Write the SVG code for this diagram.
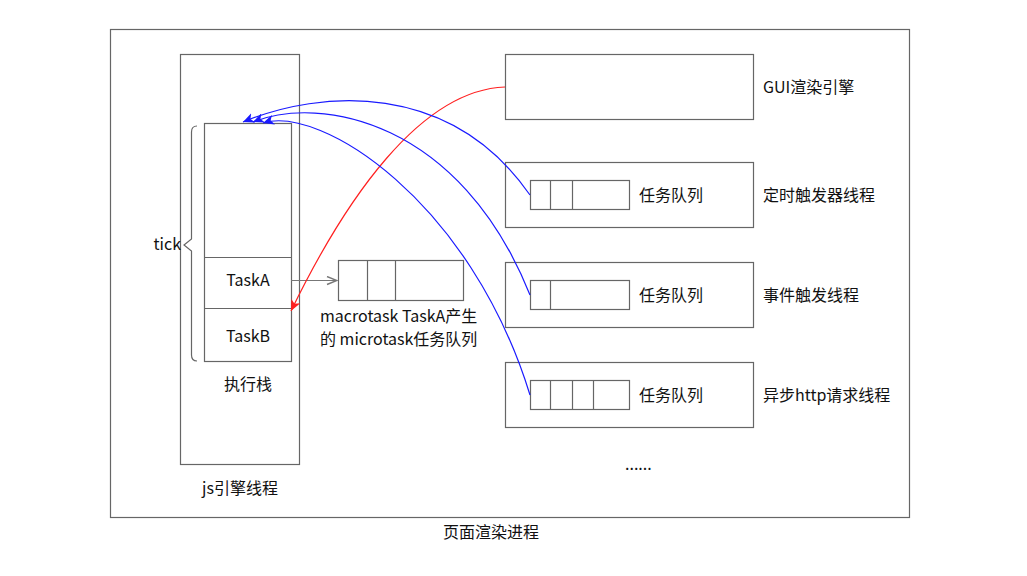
<svg xmlns="http://www.w3.org/2000/svg" width="1027" height="576" viewBox="0 0 1027 576">
<style>
.b{fill:none;stroke:#666;stroke-width:1.2}
.t{font-family:"Noto Sans CJK SC","Noto Sans",sans-serif;font-size:16px;fill:#111}
.m{text-anchor:middle}
.blue{fill:none;stroke:#1a1aff;stroke-width:1.2}
.red{fill:none;stroke:#ff2020;stroke-width:1.2}
.grey{fill:none;stroke:#777;stroke-width:1.2}
</style>
<defs>
<marker id="ab" viewBox="0 0 12 10" refX="11" refY="5" markerWidth="12" markerHeight="10" markerUnits="userSpaceOnUse" orient="auto">
<path d="M0,0 L11,5 L0,10 L3,5 Z" fill="#1a1aff"/>
</marker>
<marker id="ar" viewBox="0 0 12 10" refX="11" refY="5" markerWidth="12" markerHeight="10" markerUnits="userSpaceOnUse" orient="auto">
<path d="M0,0 L11,5 L0,10 L3,5 Z" fill="#ff2020"/>
</marker>
<marker id="ag" viewBox="0 0 12 10" refX="11" refY="5" markerWidth="12" markerHeight="10" markerUnits="userSpaceOnUse" orient="auto">
<path d="M1,1 L11,5 L1,9" fill="none" stroke="#777" stroke-width="1.4"/>
</marker>
</defs>
<rect width="1027" height="576" fill="#fff"/>

<g id="process">
<rect class="b" x="110.5" y="29.5" width="799" height="488"/>
<text class="t m" x="491" y="538">页面渲染进程</text>
</g>

<g id="js-engine">
<rect class="b" x="180.5" y="54.5" width="119" height="410"/>
<text class="t m" x="240" y="494">js引擎线程</text>
</g>

<g id="stack">
<rect class="b" x="204.5" y="123.5" width="87" height="238"/>
<line class="b" x1="204.5" y1="257.5" x2="291.5" y2="257.5"/>
<line class="b" x1="204.5" y1="308.5" x2="291.5" y2="308.5"/>
<text class="t m" x="248" y="286">TaskA</text>
<text class="t m" x="248" y="342">TaskB</text>
<text class="t m" x="248" y="390">执行栈</text>
</g>

<g id="tick">
<path class="b" d="M197,126 Q191.5,126 191.5,132 L191.5,239 L184,245 L191.5,251 L191.5,355 Q191.5,361 197,361"/>
<text class="t" x="181" y="250" text-anchor="end">tick</text>
</g>

<g id="microtask-queue">
<rect class="b" x="338.5" y="260.5" width="125" height="40"/>
<line class="b" x1="367.5" y1="260.5" x2="367.5" y2="300.5"/>
<line class="b" x1="395.5" y1="260.5" x2="395.5" y2="300.5"/>
<text class="t" x="320" y="322">macrotask TaskA产生</text>
<text class="t" x="320" y="345">的 microtask任务队列</text>
</g>

<g id="gui">
<rect class="b" x="505.5" y="54.5" width="248" height="65"/>
<text class="t" x="763" y="93">GUI渲染引擎</text>
</g>

<g id="timer">
<rect class="b" x="505.5" y="162.5" width="248" height="65"/>
<rect class="b" x="530.5" y="180.5" width="99" height="29"/>
<line class="b" x1="550.5" y1="180.5" x2="550.5" y2="209.5"/>
<line class="b" x1="572.5" y1="180.5" x2="572.5" y2="209.5"/>
<text class="t" x="639" y="201">任务队列</text>
<text class="t" x="763" y="201">定时触发器线程</text>
</g>

<g id="event">
<rect class="b" x="505.5" y="262.5" width="248" height="65"/>
<rect class="b" x="530.5" y="280.5" width="99" height="29"/>
<line class="b" x1="550.5" y1="280.5" x2="550.5" y2="309.5"/>
<text class="t" x="639" y="301">任务队列</text>
<text class="t" x="763" y="301">事件触发线程</text>
</g>

<g id="http">
<rect class="b" x="505.5" y="362.5" width="248" height="65"/>
<rect class="b" x="530.5" y="380.5" width="99" height="29"/>
<line class="b" x1="550.5" y1="380.5" x2="550.5" y2="409.5"/>
<line class="b" x1="572.5" y1="380.5" x2="572.5" y2="409.5"/>
<line class="b" x1="593.5" y1="380.5" x2="593.5" y2="409.5"/>
<text class="t" x="639" y="401">任务队列</text>
<text class="t" x="763" y="401">异步http请求线程</text>
</g>

<g id="more">
<text class="t" x="625" y="470">......</text>
</g>

<g id="connectors">
<path class="grey" d="M291,280.5 L337,280.5" marker-end="url(#ag)"/>
<path class="red" d="M505,87 C420,90 345,200 291,311" marker-end="url(#ar)"/>
<path class="blue" d="M530,195 C450,80 320,90 243,122" marker-end="url(#ab)"/>
<path class="blue" d="M530,295 C460,120 320,95 253,122" marker-end="url(#ab)"/>
<path class="blue" d="M530,395 C470,200 320,105 263,123" marker-end="url(#ab)"/>
</g>
</svg>
